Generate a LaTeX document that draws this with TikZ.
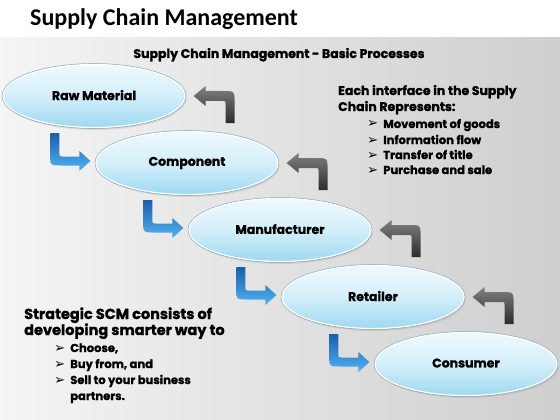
\documentclass[tikz,border=0pt]{standalone}
\usepackage{fontspec}
\setmainfont{Poppins}[BoldFeatures={FakeBold=1.2}]
\newfontfamily\titlefont{Carlito}
\newfontfamily\symfont{DejaVu Sans}
\usetikzlibrary{shapes.geometric,shadows,calc}
\definecolor{ellTop}{HTML}{EEF9FD}
\definecolor{ellMid}{HTML}{D4EFFA}
\definecolor{ellBot}{HTML}{9ED8F0}
\definecolor{ellEdge}{HTML}{8FB3C2}
\definecolor{bluTop}{HTML}{1A5EA8}
\definecolor{bluBot}{HTML}{52B2F0}
\definecolor{gryTop}{HTML}{808080}
\definecolor{gryBot}{HTML}{2C2C2C}
\newcommand\mybullet{{\symfont\bfseries\scalebox{1.15}{\char"27A2}}}
\tikzset{
  proc/.style={ellipse, minimum width=182pt, minimum height=63pt, inner sep=0pt,
    top color=ellTop, bottom color=ellBot, middle color=ellMid,
    draw=white, line width=1.2pt,
    preaction={draw=ellEdge, line width=2.6pt},
    drop shadow={opacity=0.18, shadow xshift=1.5pt, shadow yshift=-2.5pt},
    font=\bfseries\fontsize{12.5}{14}\selectfont, text=black},
  txt/.style={anchor=base west, inner sep=0pt, font=\bfseries\fontsize{12.5}{14}\selectfont},
  rbul/.style={anchor=base west, inner sep=0pt, font=\bfseries\fontsize{11.5}{13}\selectfont},
  lhead/.style={anchor=base west, inner sep=0pt, font=\bfseries\fontsize{14.5}{16}\selectfont},
  lbul/.style={anchor=base west, inner sep=0pt, font=\bfseries\fontsize{11.5}{13}\selectfont},
}
\newcommand\bluearrow[1]{%
  \shade[top color=bluTop, bottom color=bluBot, shift={(#1)}]
    (-40,-28) -- (-31,-28) -- (-31,-7.5) .. controls (-31,-4.5) .. (-28,-4.5)
    -- (-11,-4.5) -- (-11,-10) -- (0,0) -- (-11,10) -- (-11,4.5) -- (-30,4.5)
    .. controls (-40,4.5) .. (-40,-5.5) -- cycle;}
\newcommand\grayarrow[1]{%
  \shade[top color=gryTop, bottom color=gryBot, shift={(#1)}]
    (0,0) -- (12,-10) -- (12,-5) -- (29,-5) .. controls (41,-5) .. (41,7)
    -- (41,27) -- (32,27) -- (32,8) .. controls (32,5) .. (29,5)
    -- (12,5) -- (12,10) -- cycle;}
\begin{document}
\begin{tikzpicture}[x=1pt,y=-1pt]
\useasboundingbox (0,0) rectangle (560,420);
\fill[white] (0,0) rectangle (560,420);
\shade[left color=black!4, right color=black!19] (0,38) rectangle (560,420);
\node[anchor=base west, inner sep=0pt, font=\titlefont\bfseries\fontsize{24}{26}\selectfont] (title) at (30,26) {Supply Chain Management};
\node[anchor=base, inner sep=0pt, font=\bfseries\fontsize{12.5}{14}\selectfont] (sub) at (279,58) {Supply Chain Management - Basic Processes};

\node[proc] (n1) at (94,96) {\raisebox{2pt}{Raw Material}};
\node[proc] (n2) at (187,163) {\raisebox{2pt}{Component}};
\node[proc] (n3) at (280,230) {\raisebox{2pt}{Manufacturer}};
\node[proc] (n4) at (373,297) {\raisebox{2pt}{Retailer}};
\node[proc] (n5) at (466,364) {\raisebox{2pt}{Consumer}};

\foreach \a/\b in {n1/n2,n2/n3,n3/n4,n4/n5}{
  \coordinate (bt\b) at ($(\b.west)+(-5,-2)$);
  \bluearrow{bt\b}
  \coordinate (gt\a) at ($(\a.east)+(8,0)$);
  \grayarrow{gt\a}
}

\node[txt] (r1) at (338,95) {Each interface in the Supply};
\node[txt] (r2) at (338,111) {Chain Represents:};
\node[rbul] (r3) at (367,128) {\mybullet\hspace{5pt}Movement of goods};
\node[rbul] (r4) at (367,144) {\mybullet\hspace{5pt}Information flow};
\node[rbul] (r5) at (367,159) {\mybullet\hspace{5pt}Transfer of title};
\node[rbul] (r6) at (367,174) {\mybullet\hspace{5pt}Purchase and sale};

\node[lhead] (l1) at (24,319) {Strategic SCM consists of};
\node[lhead] (l2) at (24,335) {developing smarter way to};
\node[lbul] (l3) at (54,352) {\mybullet\hspace{5pt}Choose,};
\node[lbul] (l4) at (54,368) {\mybullet\hspace{5pt}Buy from, and};
\node[lbul] (l5) at (54,384) {\mybullet\hspace{5pt}Sell to your business};
\node[lbul] (l6) at (l5.base west) [xshift=0pt, yshift=-16pt] {\phantom{\mybullet}\hspace{5pt}partners.};
\end{tikzpicture}
\end{document}
